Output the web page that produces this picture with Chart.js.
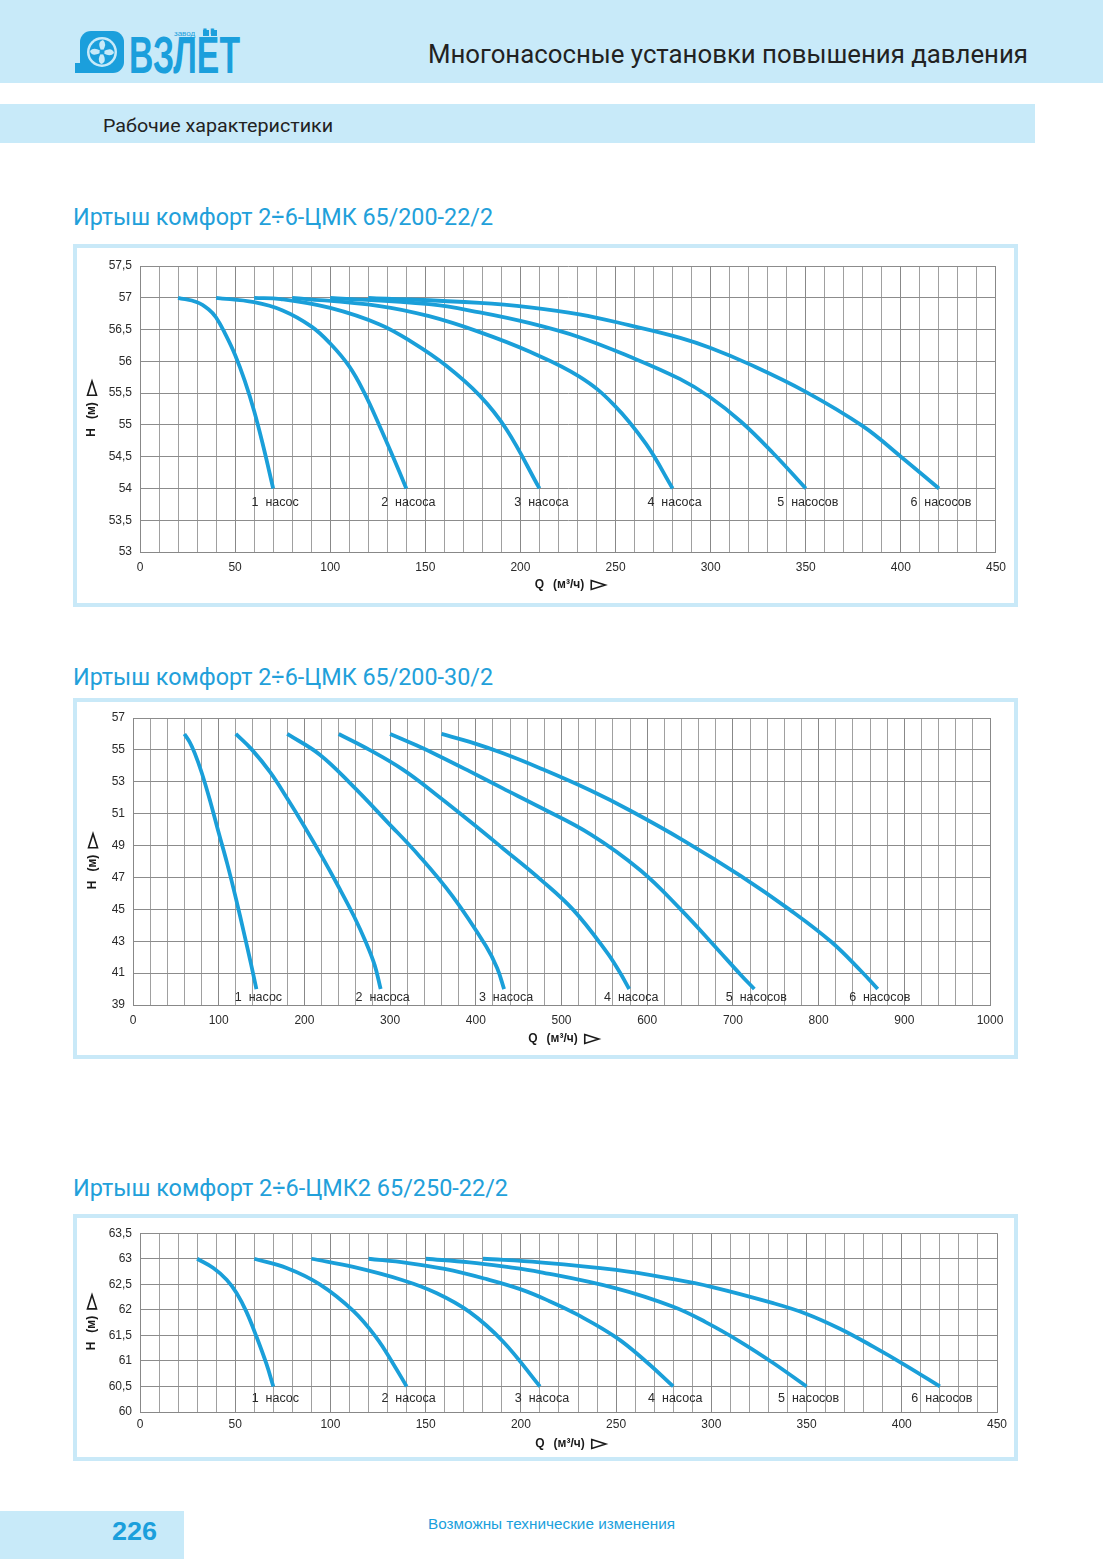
<!DOCTYPE html>
<html>
<head>
<meta charset="utf-8">
<script src="https://cdn.jsdelivr.net/npm/chart.js@4.4.1/dist/chart.umd.min.js"></script>
<style>
  html,body{margin:0;padding:0;background:#fff;}
  body{width:1103px;height:1559px;position:relative;overflow:hidden;}
  svg.page{position:absolute;left:0;top:0;}
  canvas{position:absolute;}
</style>
</head>
<body>
<svg class="page" width="1103" height="1559" xmlns="http://www.w3.org/2000/svg">
  <rect x="0" y="0" width="1103" height="83" fill="#c8eaf9"/>
  <rect x="0" y="104" width="1035" height="39" fill="#c8eaf9"/>
  <!-- logo -->
  <g>
    <rect x="80" y="31" width="44" height="42" rx="11" fill="#1b9fdc"/>
    <rect x="75" y="63" width="20" height="10" fill="#1b9fdc"/>
    <circle cx="102" cy="52" r="15" fill="#c8eaf9"/>
    <circle cx="102" cy="52" r="12.5" fill="#1b9fdc"/>
    <g fill="#c8eaf9">
      <path d="M102 52 Q96 42 103 40 Q108 44 102 52Z"/>
      <path d="M102 52 Q112 46 114 53 Q110 58 102 52Z"/>
      <path d="M102 52 Q108 62 101 64 Q96 60 102 52Z"/>
      <path d="M102 52 Q92 58 90 51 Q94 46 102 52Z"/>
    </g>
    <circle cx="102" cy="52" r="2.5" fill="#1b9fdc"/>
    <text x="129" y="73" font-family="'Liberation Sans','DejaVu Sans',sans-serif" font-weight="bold" font-size="51" fill="#1b9fdc" textLength="111" lengthAdjust="spacingAndGlyphs">ВЗЛЁТ</text>
    <text x="174" y="36" font-family="'Liberation Sans',sans-serif" font-size="8" fill="#1b9fdc">завод</text>
    <rect x="203" y="30" width="6" height="6" fill="#1b9fdc"/>
    <rect x="211" y="30" width="6" height="6" fill="#1b9fdc"/>
  </g>
  <text x="1028" y="63" text-anchor="end" font-family="Roboto,'Noto Sans',sans-serif" font-size="25" fill="#222" textLength="600" lengthAdjust="spacingAndGlyphs">Многонасосные установки повышения давления</text>
  <text x="103" y="131.5" font-family="Roboto,'Noto Sans',sans-serif" font-size="18.5" fill="#222" textLength="230" lengthAdjust="spacingAndGlyphs">Рабочие характеристики</text>

  <text x="73" y="225" font-family="Roboto,'Noto Sans',sans-serif" font-size="23" fill="#22a0da" textLength="420" lengthAdjust="spacingAndGlyphs">Иртыш комфорт 2÷6-ЦМК 65/200-22/2</text>
  <rect x="75" y="246" width="941" height="359" fill="#fff" stroke="#c9e9f8" stroke-width="4"/>

  <text x="73" y="685" font-family="Roboto,'Noto Sans',sans-serif" font-size="23" fill="#22a0da" textLength="420" lengthAdjust="spacingAndGlyphs">Иртыш комфорт 2÷6-ЦМК 65/200-30/2</text>
  <rect x="75" y="700" width="941" height="357" fill="#fff" stroke="#c9e9f8" stroke-width="4"/>

  <text x="73" y="1196" font-family="Roboto,'Noto Sans',sans-serif" font-size="23" fill="#22a0da" textLength="435" lengthAdjust="spacingAndGlyphs">Иртыш комфорт 2÷6-ЦМК2 65/250-22/2</text>
  <rect x="75" y="1216" width="941" height="243" fill="#fff" stroke="#c9e9f8" stroke-width="4"/>

  <rect x="0" y="1511" width="184" height="48" fill="#c8eaf9"/>
  <text x="112" y="1540" font-family="'Liberation Sans',sans-serif" font-weight="bold" font-size="25" fill="#1b9fdc" textLength="45" lengthAdjust="spacingAndGlyphs">226</text>
  <text x="428" y="1529" font-family="'Liberation Sans',sans-serif" font-size="14.5" fill="#1b9fdc" textLength="247" lengthAdjust="spacingAndGlyphs">Возможны технические изменения</text>
</svg>

<canvas id="c1" width="937" height="354" style="left:77px;top:248px;width:937px;height:354px"></canvas>
<canvas id="c2" width="937" height="353" style="left:77px;top:702px;width:937px;height:353px"></canvas>
<canvas id="c3" width="937" height="239" style="left:77px;top:1218px;width:937px;height:239px"></canvas>

<script>
// ---------- DATA ----------
const pumpLabels = ['1  насос', '2  насоса', '3  насоса', '4  насоса', '5  насосов', '6  насосов'];
const xTitleParts = ['Q', '(м³/ч)'];
const yTitleParts = ['H', '(м)'];

// Chart 1: Иртыш комфорт 2÷6-ЦМК 65/200-22/2  [Q (м³/ч), H (м)]
const c1p1 = [[20,57],[30,56.93],[36,56.82],[40,56.69],[45,56.42],[50,56.1],[55,55.7],[60,55.22],[65,54.64],[70,54]];
const c1p2 = [[40,57],[60,56.93],[75,56.8],[90,56.55],[100,56.28],[110,55.92],[118,55.5],[126,54.98],[133,54.5],[140,54]];
const c1p3 = [[60,57],[74,56.98],[100,56.84],[126,56.58],[143.6,56.29],[161,55.93],[178.6,55.46],[192.6,54.93],[210,54]];
const c1p4 = [[80,57],[126,56.87],[152,56.71],[178.6,56.46],[205,56.15],[231,55.76],[249,55.32],[266,54.7],[280,54]];
const c1p5 = [[100,57],[152,56.9],[178.6,56.77],[205,56.6],[231,56.38],[257,56.08],[284,55.72],[299,55.45],[316,55.05],[333,54.55],[350,54]];
const c1p6 = [[120,57],[178.6,56.92],[205,56.85],[231,56.74],[257,56.57],[284,56.37],[300,56.21],[320,55.96],[350,55.52],[380,54.98],[400,54.5],[420,54]];

// Chart 2: Иртыш комфорт 2÷6-ЦМК 65/200-30/2
const c2p1 = [[60,56],[66,55.5],[72,54.8],[80,53.6],[90,51.8],[100,49.8],[110,47.85],[120,45.7],[130,43.4],[138,41.5],[144,40]];
const c2p2 = [[120,56],[139,55],[160,53.6],[180,51.95],[200,50.2],[220,48.35],[240,46.4],[258,44.55],[272,42.9],[282,41.5],[289,40]];
const c2p3 = [[180,56],[218,54.7],[257,52.71],[296,50.52],[334.5,48.32],[373,45.81],[412,42.68],[425,41.3],[433,40]];
const c2p4 = [[240,56],[276,55],[315,53.76],[354,52.19],[393,50.52],[431,48.85],[476,46.85],[514,44.95],[553,42.3],[568,41.05],[579,40]];
const c2p5 = [[300,56],[330,55.3],[354,54.7],[393,53.65],[431,52.6],[475,51.4],[534,49.7],[592,47.45],[639,45],[682,42.5],[709,40.9],[725,40]];
const c2p6 = [[360,56],[393,55.5],[431,54.8],[475,53.85],[534,52.45],[580,51.2],[643,49.3],[709,47.1],[767,44.95],[815,42.95],[850,41.1],[869,40]];

// Chart 3: Иртыш комфорт 2÷6-ЦМК2 65/250-22/2
const c3p1 = [[30,63],[38.5,62.82],[45.5,62.59],[50.7,62.33],[55.9,61.96],[61.2,61.47],[66.4,60.94],[70,60.5]];
const c3p2 = [[60,63],[77,62.82],[94.4,62.5],[112,61.98],[124,61.46],[133,60.94],[140,60.5]];
const c3p3 = [[90,63],[112,62.84],[138,62.58],[155.6,62.33],[173,61.96],[190.6,61.38],[210,60.5]];
const c3p4 = [[120,63],[140,62.92],[160,62.8],[182,62.6],[200,62.4],[215,62.17],[230,61.9],[250,61.46],[266,60.98],[280,60.5]];
const c3p5 = [[150,63],[173,62.93],[190.6,62.85],[210,62.74],[250,62.42],[280,62.06],[297,61.76],[315,61.38],[332.5,60.96],[350,60.5]];
const c3p6 = [[180,63],[210,62.93],[250,62.78],[280,62.6],[300,62.45],[332.5,62.13],[350,61.92],[367.5,61.63],[385,61.28],[402.6,60.9],[420,60.5]];

// axis ranges / ticks
const c1X = {min:0, max:450, step:10, labelEvery:50};
const c1Y = {min:53, max:57.5, step:0.5};
const c2X = {min:0, max:1000, step:20, labelEvery:100};
const c2Y = {min:39, max:57, step:2};
const c3X = {min:0, max:450, step:10, labelEvery:50};
const c3Y = {min:60, max:63.5, step:0.5};

// ---------- STYLE / RENDER ----------
const LINE = '#1a9fd9';
const TICKFONT = {family:"'Liberation Sans', Arial, sans-serif", size:12};

function drawAxisTitle(ctx, parts, cx, cy) {
  ctx.font = "bold 12px 'Liberation Sans', Arial, sans-serif";
  const gap1 = 9, gap2 = 7, arrowW = 14;
  const w0 = ctx.measureText(parts[0]).width;
  const w1 = ctx.measureText(parts[1]).width;
  const total = w0 + gap1 + w1 + gap2 + arrowW;
  let x = cx - total / 2;
  ctx.textAlign = 'left';
  ctx.textBaseline = 'middle';
  ctx.fillText(parts[0], x, cy);
  x += w0 + gap1;
  ctx.fillText(parts[1], x, cy);
  x += w1 + gap2;
  ctx.beginPath();
  ctx.moveTo(x, cy - 4.5);
  ctx.lineTo(x + arrowW, cy);
  ctx.lineTo(x, cy + 4.5);
  ctx.closePath();
  ctx.lineWidth = 1.6;
  ctx.strokeStyle = '#1a1a1a';
  ctx.stroke();
}

const annotPlugin = {
  id: 'annot',
  afterDraw(chart, args, o) {
    const {ctx, chartArea} = chart;
    ctx.save();
    ctx.fillStyle = '#2a2a2a';
    ctx.font = "12.5px 'Liberation Sans', Arial, sans-serif";
    ctx.textAlign = 'center';
    ctx.textBaseline = 'middle';
    chart.data.datasets.forEach((ds, i) => {
      const pts = chart.getDatasetMeta(i).data;
      const last = pts[pts.length - 1];
      ctx.fillText(ds.label, last.x + o.dx, last.y + o.dy);
    });
    ctx.fillStyle = '#1a1a1a';
    drawAxisTitle(ctx, xTitleParts, (chartArea.left + chartArea.right) / 2 + 2, chartArea.bottom + o.xTitleDy);
    ctx.translate(chartArea.left - o.yTitleDx, (chartArea.top + chartArea.bottom) / 2);
    ctx.rotate(-Math.PI / 2);
    drawAxisTitle(ctx, yTitleParts, 0, 0);
    ctx.restore();
  }
};

const fmt = v => String(Math.round(v * 100) / 100).replace('.', ',');

function makeChart(id, series, xr, yr, L) {
  const datasets = series.map((s, i) => ({
    label: pumpLabels[i],
    data: s.map(([x, y]) => ({x, y})),
    borderColor: LINE,
    borderWidth: 3.8,
    pointRadius: 0,
    fill: false,
    tension: 0.4,
    borderCapStyle: 'butt'
  }));
  return new Chart(document.getElementById(id), {
    type: 'line',
    data: {datasets},
    plugins: [annotPlugin],
    options: {
      responsive: false,
      animation: false,
      events: [],
      layout: {padding: {top: L.top, right: L.right, left: 0, bottom: 0}},
      plugins: {
        legend: {display: false},
        tooltip: {enabled: false},
        annot: {dx: 2, dy: L.labelDy, xTitleDy: L.xTitleDy, yTitleDx: L.yTitleDx}
      },
      scales: {
        x: {
          type: 'linear', min: xr.min, max: xr.max,
          afterFit: s => { s.height = L.xh; },
          ticks: {
            stepSize: xr.step, autoSkip: false, maxRotation: 0, padding: L.xPad,
            color: '#2a2a2a', font: TICKFONT,
            callback: v => (Math.round(v) % xr.labelEvery === 0 ? String(v) : '')
          },
          grid: {
            drawTicks: false, lineWidth: 1,
            color: c => (c.tick && Math.round(c.tick.value) % xr.labelEvery === 0 ? '#888888' : '#a0a0a0')
          },
          border: {display: true, color: '#888888', width: 1}
        },
        y: {
          type: 'linear', min: yr.min, max: yr.max,
          afterFit: s => { s.width = L.yw; },
          ticks: {
            stepSize: yr.step, autoSkip: false, padding: 8,
            color: '#2a2a2a', font: TICKFONT,
            callback: v => fmt(v)
          },
          grid: {drawTicks: false, lineWidth: 1, color: '#8c8c8c'},
          border: {display: true, color: '#888888', width: 1}
        }
      }
    }
  });
}

makeChart('c1', [c1p1, c1p2, c1p3, c1p4, c1p5, c1p6], c1X, c1Y,
  {top: 18, right: 17, yw: 63, xh: 50, xPad: 8, labelDy: 14, xTitleDy: 33, yTitleDx: 48});
makeChart('c2', [c2p1, c2p2, c2p3, c2p4, c2p5, c2p6], c2X, c2Y,
  {top: 16, right: 24, yw: 56, xh: 50, xPad: 8, labelDy: 8, xTitleDy: 34, yTitleDx: 40});
makeChart('c3', [c3p1, c3p2, c3p3, c3p4, c3p5, c3p6], c3X, c3Y,
  {top: 13, right: 17, yw: 63, xh: 45, xPad: 5, labelDy: 12, xTitleDy: 32, yTitleDx: 48});
</script>
</body>
</html>
